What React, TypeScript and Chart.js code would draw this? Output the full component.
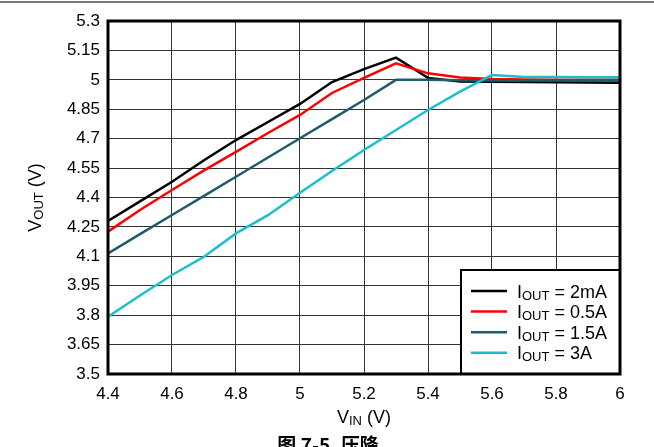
import React, { useEffect, useRef } from 'react';
import { Chart, registerables } from 'chart.js';

Chart.register(...registerables);

// ---------- data ----------
const vin = [4.4, 4.5, 4.6, 4.7, 4.8, 4.9, 5.0, 5.1, 5.2, 5.3, 5.4, 5.5, 5.6, 5.7, 5.8, 5.9, 6.0];
const iout2mA = [4.28, 4.38, 4.48, 4.59, 4.693, 4.785, 4.877, 4.989, 5.055, 5.113, 5.01, 4.992, 4.99, 4.989, 4.988, 4.986, 4.985];
const iout05A = [4.226, 4.336, 4.438, 4.538, 4.633, 4.729, 4.821, 4.933, 5.01, 5.084, 5.033, 5.012, 5.004, 5.002, 5.001, 5.0, 5.0];
const iout15A = [4.115, 4.213, 4.311, 4.408, 4.506, 4.604, 4.702, 4.8, 4.897, 5.0, 5.0, 4.998, 4.997, 4.997, 4.997, 4.997, 4.997];
const iout3A = [3.792, 3.9, 4.005, 4.098, 4.217, 4.31, 4.424, 4.535, 4.642, 4.744, 4.846, 4.94, 5.025, 5.015, 5.014, 5.013, 5.013];

const xTicks = [4.4, 4.6, 4.8, 5.0, 5.2, 5.4, 5.6, 5.8, 6.0];
const yTicks = [3.5, 3.65, 3.8, 3.95, 4.1, 4.25, 4.4, 4.55, 4.7, 4.85, 5.0, 5.15, 5.3];

const seriesNames = ['2mA', '0.5A', '1.5A', '3A'];
const seriesColors = ['#000000', '#ff0000', '#1f5b6b', '#19bfcf'];
const seriesData = [iout2mA, iout05A, iout15A, iout3A];

const caption = '图 7-5. 压降';

const FONT = '"Liberation Sans", Arial, Helvetica, sans-serif';

type Run = { text: string; size: number; dy: number };

function measureRuns(ctx: CanvasRenderingContext2D, runs: Run[]) {
  let w = 0;
  for (const r of runs) {
    ctx.font = `${r.size}px ${FONT}`;
    w += ctx.measureText(r.text).width;
  }
  return w;
}

function drawRuns(ctx: CanvasRenderingContext2D, runs: Run[], x: number, y: number) {
  let cx = x;
  ctx.textAlign = 'left';
  ctx.textBaseline = 'alphabetic';
  for (const r of runs) {
    ctx.font = `${r.size}px ${FONT}`;
    ctx.fillText(r.text, cx, y + r.dy);
    cx += ctx.measureText(r.text).width;
  }
}

const decorPlugin = {
  id: 'decor',
  afterDraw(chart: any) {
    const ctx: CanvasRenderingContext2D = chart.ctx;
    const ca = chart.chartArea;
    ctx.save();

    // top page rule
    ctx.fillStyle = '#7a7a7a';
    ctx.fillRect(0, 1, chart.width, 2);

    // legend box
    const lx = 461, ly = 270;
    const lw = ca.right - lx, lh = ca.bottom - ly;
    ctx.fillStyle = '#fff';
    ctx.fillRect(lx, ly, lw, lh);
    ctx.strokeStyle = '#000';
    ctx.lineWidth = 2;
    ctx.strokeRect(lx, ly, lw, lh);

    // frame
    ctx.lineWidth = 3;
    ctx.strokeRect(ca.left, ca.top, ca.right - ca.left, ca.bottom - ca.top);

    seriesNames.forEach((name, i) => {
      const y = 291 + i * 20.6;
      ctx.strokeStyle = seriesColors[i];
      ctx.lineWidth = 2.5;
      ctx.beginPath();
      ctx.moveTo(471, y);
      ctx.lineTo(507, y);
      ctx.stroke();
      ctx.fillStyle = '#000';
      drawRuns(ctx, [
        { text: 'I', size: 18, dy: 0 },
        { text: 'OUT', size: 13, dy: 2 },
        { text: ' = ' + name, size: 18, dy: 0 },
      ], 517, y + 6.5);
    });

    // x axis title
    ctx.fillStyle = '#000';
    const xr: Run[] = [
      { text: 'V', size: 18, dy: 0 },
      { text: 'IN', size: 13, dy: 2 },
      { text: ' (V)', size: 18, dy: 0 },
    ];
    const xw = measureRuns(ctx, xr);
    drawRuns(ctx, xr, (ca.left + ca.right) / 2 - xw / 2, 423);

    // y axis title
    const yr: Run[] = [
      { text: 'V', size: 18, dy: 0 },
      { text: 'OUT', size: 13, dy: 2 },
      { text: ' (V)', size: 18, dy: 0 },
    ];
    const yw = measureRuns(ctx, yr);
    ctx.save();
    ctx.translate(41, (ca.top + ca.bottom) / 2);
    ctx.rotate(-Math.PI / 2);
    drawRuns(ctx, yr, -yw / 2, 0);
    ctx.restore();

    // caption (cut off by the page edge)
    ctx.font = `bold 19px "Noto Sans CJK SC", sans-serif`;
    ctx.textAlign = 'center';
    ctx.textBaseline = 'top';
    ctx.fillText(caption, 328, 435);

    ctx.restore();
  },
};

export default function App() {
  const ref = useRef<HTMLCanvasElement | null>(null);

  useEffect(() => {
    const canvas = ref.current;
    if (!canvas) return;
    const fmt = (v: any) => String(parseFloat(Number(v).toFixed(2)));
    const chart = new Chart(canvas, {
      type: 'line',
      data: {
        datasets: seriesData.map((arr, i) => ({
          label: 'IOUT = ' + seriesNames[i],
          data: vin.map((x, j) => ({ x, y: arr[j] })),
          borderColor: seriesColors[i],
          backgroundColor: seriesColors[i],
          borderWidth: 2.5,
          pointRadius: 0,
          tension: 0,
          order: 4 - i,
        })),
      },
      options: {
        responsive: false,
        animation: false,
        devicePixelRatio: 1,
        layout: { padding: { left: 0, right: 34, top: 21, bottom: 0 } },
        plugins: {
          legend: { display: false },
          tooltip: { enabled: false },
          title: { display: false },
        },
        scales: {
          x: {
            type: 'linear',
            min: 4.4,
            max: 6,
            afterBuildTicks: (s: any) => { s.ticks = xTicks.map((v) => ({ value: v })); },
            afterFit: (s: any) => { s.height = 73; },
            ticks: {
              callback: fmt,
              color: '#000',
              font: { family: FONT, size: 17 },
              padding: 10,
              maxRotation: 0,
              autoSkip: false,
            },
            grid: { color: '#333', lineWidth: 1, drawTicks: false },
            border: { display: false },
          },
          y: {
            type: 'linear',
            min: 3.5,
            max: 5.3,
            afterBuildTicks: (s: any) => { s.ticks = yTicks.map((v) => ({ value: v })); },
            afterFit: (s: any) => { s.width = 108; },
            ticks: {
              callback: fmt,
              color: '#000',
              font: { family: FONT, size: 17 },
              padding: 8,
              autoSkip: false,
            },
            grid: { color: '#333', lineWidth: 1, drawTicks: false },
            border: { display: false },
          },
        },
      },
      plugins: [decorPlugin],
    });
    return () => chart.destroy();
  }, []);

  return (
    <div style={{ position: 'absolute', left: 0, top: 0, width: 654, height: 447, background: '#fff', overflow: 'hidden' }}>
      <canvas ref={ref} width={654} height={447} style={{ display: 'block' }} />
    </div>
  );
}
